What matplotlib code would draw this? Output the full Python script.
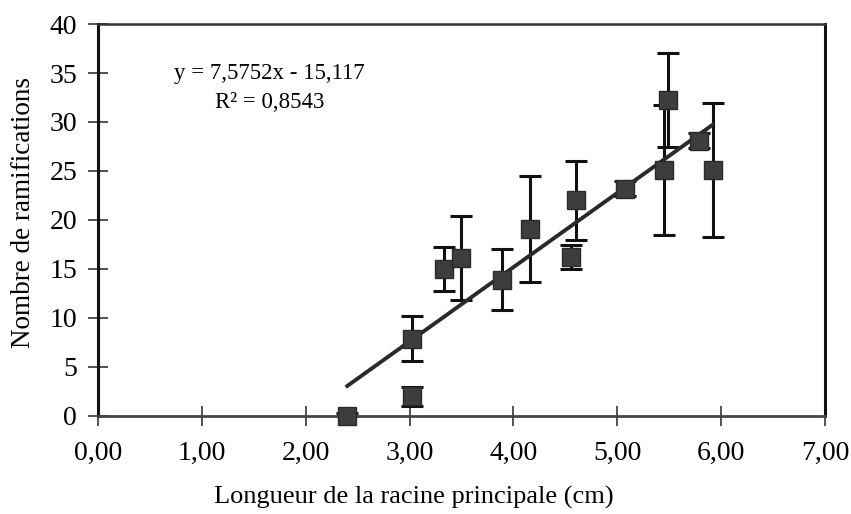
import numpy as np
import matplotlib
matplotlib.use("Agg")
import matplotlib.pyplot as plt

plt.rcParams["font.family"] = ["Liberation Serif", "DejaVu Serif"]

# longueur de la racine principale (cm)
longueur = [2.40, 3.02, 3.02, 3.33, 3.50, 3.89, 4.16, 4.55, 4.60, 5.07, 5.45, 5.49, 5.79, 5.92]
# nombre de ramifications
ramifications = [0.0, 2.0, 7.9, 15.0, 16.1, 13.9, 19.1, 16.2, 22.0, 23.2, 25.1, 32.2, 28.1, 25.1]
# ecart-type
erreur = [0.3, 1.0, 2.3, 2.2, 4.3, 3.1, 5.4, 1.2, 4.0, 0.8, 6.6, 4.8, 0.8, 6.8]

# regression lineaire (Excel)
pente = 7.5752
ordonnee = -15.117
r2 = 0.8543

x_ticks = [0, 1, 2, 3, 4, 5, 6, 7]
x_tick_labels = ["0,00", "1,00", "2,00", "3,00", "4,00", "5,00", "6,00", "7,00"]
y_ticks = [0, 5, 10, 15, 20, 25, 30, 35, 40]

fig = plt.figure(figsize=(8.51, 5.14), dpi=100)
ax = fig.add_axes([0.1152, 0.1907, 0.8542, 0.7626])

ax.errorbar(
    longueur,
    ramifications,
    yerr=erreur,
    fmt="none",
    ecolor="#111111",
    elinewidth=2.2,
    capsize=8,
    capthick=2.2,
    zorder=2
)

x_fit = np.array([min(longueur), max(longueur)])
ax.plot(
    x_fit,
    pente * x_fit + ordonnee,
    color="#2a2a2a",
    linewidth=2.8,
    zorder=3
)

ax.plot(
    longueur,
    ramifications,
    linestyle="none",
    marker="s",
    markersize=13,
    markerfacecolor="#3d3d3d",
    markeredgecolor="#2a2a2a",
    zorder=4,
    clip_on=False
)

ax.set_xlim(0, 7)
ax.set_ylim(0, 40)

ax.set_xticks(x_ticks)
ax.set_xticklabels(x_tick_labels)
ax.set_yticks(y_ticks)

ax.tick_params(
    direction="inout",
    length=14,
    width=1.2,
    labelsize=20,
    color="#333333"
)
ax.tick_params(axis="x", pad=11)
ax.tick_params(axis="y", pad=8)

for side in ["left", "right"]:
    ax.spines[side].set_linewidth(2.2)
    ax.spines[side].set_color("#111111")
ax.spines["top"].set_linewidth(1.8)
ax.spines["top"].set_color("#333333")
ax.spines["bottom"].set_linewidth(2.0)
ax.spines["bottom"].set_color("#444444")

ax.set_xlabel("Longueur de la racine principale (cm)", fontsize=19)
ax.set_ylabel("Nombre de ramifications", fontsize=19.5)
ax.xaxis.set_label_coords(0.435, -0.178)
ax.yaxis.set_label_coords(-0.086, 0.52)

eq = f"y = {pente:.4f}x - {-ordonnee:.3f}".replace(".", ",")
ax.text(1.65, 34.9, eq, ha="center", va="center", fontsize=16.5)
ax.text(1.65, 32.0, "R² = " + f"{r2:.4f}".replace(".", ","), ha="center", va="center", fontsize=16.5)

fig.savefig("out.png", dpi=100)
